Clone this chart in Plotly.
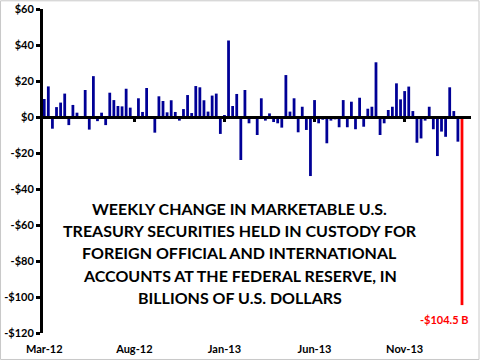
import plotly.graph_objects as go
import datetime as dt

# ---- data ----
start = dt.date(2012, 3, 21)
values = [10, 17, -6.5, 5.5, 8, 13, -4.5, 6.7, 2.4, 0.3,
          15, -7, 22.7, -2.3, 2.4, -4.5, 13.5, 9.4, 6.1, 5.9,
          15.7, 5.2, -1, 10.4, 2.8, 16.1, -0.5, -8.7, 11.5, 8.9,
          2.6, 9.3, 2.8, -2, 4.4, 12.2, 2.2, 17.2, 16.5, 9.3,
          3, 11.9, 13, -9.4, 0.8, 42.5, 6.1, 12.8, -23.9, 15,
          -3.5, -1, -10, 10.4, -2, 2, -2.8, -3.5, -5.9, 23.3,
          3, 10.4, -8.5, 5.7, -7.2, -32.8, 9.4, -3.5, -1.5, -14.6,
          -2, -1.3, -5.7, 9.4, -5.7, 8.5, -6.8, 10.7, -5.4, 4.6,
          5.7, 30.4, -10, -3.5, 3.9, 5.7, 18.7, 9.8, 14.4, 16.9,
          3.3, -14.3, -11.9, -2, 5.7, -6.8, -21.7, -8.1, -11, 16.5,
          3.3, -13.7, -104.5]
weeks = [(start + dt.timedelta(weeks=i)).isoformat() for i in range(len(values))]
tick_index = [0, 22, 44, 66, 88]
tick_labels = ["Mar-12", "Aug-12", "Jan-13", "Jun-13", "Nov-13"]
y_ticks = [60, 40, 20, 0, -20, -40, -60, -80, -100, -120]
y_labels = ["$60", "$40", "$20", "$0", "-$20", "-$40", "-$60", "-$80", "-$100", "-$120"]
last_label = "-$104.5 B"
title_lines = ["WEEKLY CHANGE IN MARKETABLE U.S.",
               "TREASURY SECURITIES HELD IN CUSTODY FOR",
               "FOREIGN OFFICIAL AND INTERNATIONAL",
               "ACCOUNTS AT THE FEDERAL RESERVE, IN",
               "BILLIONS OF U.S. DOLLARS"]

NAVY = "#000096"
RED = "#ff0000"
colors = [NAVY] * (len(values) - 1) + [RED]
FONT = "Lato"

fig = go.Figure()
fig.add_trace(go.Bar(x=weeks, y=values, marker=dict(color=colors, line=dict(width=0)),
                     showlegend=False, hoverinfo="x+y"))
# invisible trace to render the zero-line axis with tick marks
fig.add_trace(go.Scatter(x=[weeks[0]], y=[0], xaxis="x2", mode="markers",
                         marker=dict(opacity=0), showlegend=False, hoverinfo="skip"))

n = len(values)
xr = [-0.3, n + 1.2]
fig.update_layout(
    width=480, height=360,
    margin=dict(l=43, r=9, t=9, b=27, autoexpand=False),
    paper_bgcolor="white", plot_bgcolor="white",
    bargap=0.32,
    font=dict(family=FONT, color="black"),
    xaxis=dict(type="category", range=xr, showgrid=False, zeroline=False,
               showline=False, ticks="", automargin=False,
               tickvals=[weeks[i] for i in tick_index], ticktext=tick_labels,
               tickfont=dict(family=FONT, size=11, color="black", weight="bold"),
               ticklabelstandoff=8),
    xaxis2=dict(type="category", overlaying="x", matches="x", anchor="free",
                position=2 / 3, range=xr, showgrid=False, zeroline=False,
                showline=True, linewidth=3, linecolor="black", automargin=False,
                ticks="outside", ticklen=3, tickwidth=3, tickcolor="black",
                tickvals=[weeks[i] for i in tick_index[1:]], showticklabels=False),
    yaxis=dict(range=[-120, 60], showgrid=False, zeroline=False, automargin=False,
               showline=True, linewidth=3, linecolor="black",
               ticks="outside", ticklen=4, tickwidth=3, tickcolor="black",
               tickvals=y_ticks, ticktext=y_labels,
               tickfont=dict(family=FONT, size=11, color="black", weight="bold")),
)

# title block, one annotation per line
line_step = 12.4  # in data units (~22 px)
for i, line in enumerate(title_lines):
    fig.add_annotation(x=0.46, xref="paper", y=-75.5 + (2 - i) * line_step, yref="y",
                       text=line, showarrow=False,
                       font=dict(family=FONT, size=16, color="black", weight="bold"),
                       xanchor="center", yanchor="middle")
fig.add_annotation(x=weeks[-1], y=values[-1], text=last_label, showarrow=False,
                   xanchor="right", yanchor="top", xshift=9, yshift=-6,
                   font=dict(family=FONT, size=11, color=RED, weight="bold"))

# light frame around the whole image
fig.add_shape(type="rect", xref="paper", yref="paper",
              x0=-0.0992, x1=1.0187, y0=-0.0817, y1=1.0253,
              line=dict(color="#c8c8c8", width=1))

fig.write_html("out.html", config={"displayModeBar": False},
               post_script="document.body.style.margin='0';document.body.style.overflow='hidden';")
